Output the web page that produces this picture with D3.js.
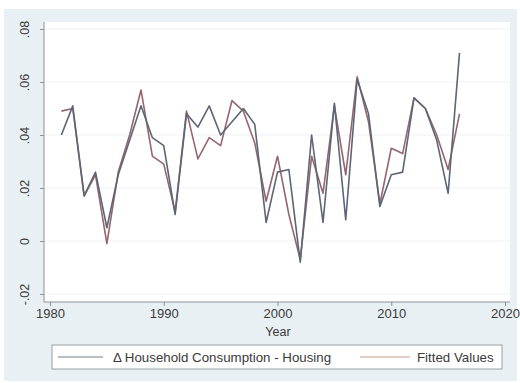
<!DOCTYPE html>
<html><head><meta charset="utf-8">
<script src="https://cdn.jsdelivr.net/npm/d3@7"></script>
<style>body{margin:0;background:#fff}svg{display:block;font-family:"Liberation Sans",Arial,sans-serif}</style>
</head><body><svg id="c" width="520" height="383"></svg>
<script>
const years = d3.range(1981, 2017);
const actual = [0.040,0.051,0.017,0.026,0.005,0.025,0.038,0.051,0.039,0.036,0.010,0.048,0.043,0.051,0.040,0.045,0.050,0.044,0.007,0.026,0.027,-0.008,0.040,0.007,0.052,0.008,0.061,0.048,0.013,0.025,0.026,0.054,0.050,0.038,0.018,0.071];
const fitted = [0.049,0.050,0.017,0.025,-0.001,0.026,0.040,0.057,0.032,0.029,0.011,0.049,0.031,0.039,0.036,0.053,0.049,0.037,0.015,0.032,0.010,-0.007,0.032,0.018,0.051,0.025,0.062,0.045,0.014,0.035,0.033,0.054,0.050,0.040,0.027,0.048];
const xTicks = [1980,1990,2000,2010,2020];
const yTicks = [-0.02,0,0.02,0.04,0.06,0.08];
const yTickLabels = ["-.02","0",".02",".04",".06",".08"];
const seriesNames = ["\u0394 Household Consumption - Housing","Fitted Values"];
const colors = ["#5d6576","#966670"];

const svg = d3.select("#c");
svg.append("rect").attr("x",4).attr("y",9).attr("width",513).attr("height",372).attr("fill","#e9f0f3");
svg.append("rect").attr("x",44).attr("y",22).attr("width",466).attr("height",280).attr("fill","#ffffff");

const x = d3.scaleLinear().domain([1980,2020]).range([50,505]);
const y = d3.scaleLinear().domain([-0.02,0.08]).range([294,29]);

svg.append("g").selectAll("line").data(yTicks).join("line")
  .attr("x1",45).attr("x2",510).attr("y1",d=>y(d)).attr("y2",d=>y(d))
  .attr("stroke","#eef1f3").attr("stroke-width",1);

const font = "'Liberation Sans',Arial,sans-serif";
const yAxis = d3.axisLeft(y).tickValues(yTicks).tickSize(4).tickFormat((d,i)=>yTickLabels[i]);
const gy = svg.append("g").attr("transform","translate(44,0)").call(yAxis);
gy.select(".domain").attr("d","M0,22V302").attr("stroke","#8a9296");
gy.selectAll(".tick line").attr("stroke","#8a9296");
gy.selectAll(".tick text").attr("transform","rotate(-90)").attr("x",0).attr("y",-15).attr("dy","0")
  .attr("text-anchor","middle").attr("font-size",12.5).attr("fill","#3a3a3a").attr("font-family",font);

const xAxis = d3.axisBottom(x).tickValues(xTicks).tickSize(4).tickFormat(d3.format("d"));
const gx = svg.append("g").attr("transform","translate(0,302)").call(xAxis);
gx.select(".domain").attr("d","M44,0H510").attr("stroke","#8a9296");
gx.selectAll(".tick line").attr("stroke","#8a9296");
gx.selectAll(".tick text").attr("y",7).attr("font-size",13).attr("fill","#3a3a3a").attr("font-family",font);

svg.append("text").attr("x",278).attr("y",336).attr("text-anchor","middle")
  .attr("font-size",12.5).attr("fill","#3a3a3a").text("Year");

const line = d3.line().x((d,i)=>x(years[i])).y(d=>y(d));
svg.append("path").datum(fitted).attr("d",line).attr("fill","none")
  .attr("stroke",colors[1]).attr("stroke-width",1.6).attr("stroke-linejoin","round");
svg.append("path").datum(actual).attr("d",line).attr("fill","none")
  .attr("stroke",colors[0]).attr("stroke-width",1.6).attr("stroke-linejoin","round");

const lg = svg.append("g");
lg.append("rect").attr("x",52).attr("y",345).attr("width",450).attr("height",24)
  .attr("fill","#fff").attr("stroke","#9aa0a4").attr("stroke-width",1);
const legendItems = [{x1:58,x2:103,tx:113},{x1:360,x2:410,tx:417}];
legendItems.forEach((it,i)=>{
  lg.append("line").attr("x1",it.x1).attr("x2",it.x2).attr("y1",357).attr("y2",357)
    .attr("stroke",i===0?"#a3aab2":"#d8bcb4").attr("stroke-width",1.6);
  lg.append("text").attr("x",it.tx).attr("y",362).attr("font-size",13.3).attr("fill","#3a3a3a").text(seriesNames[i]);
});
</script></body></html>
